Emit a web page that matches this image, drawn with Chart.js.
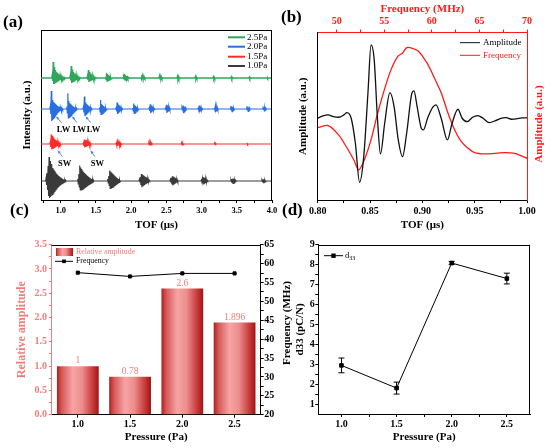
<!DOCTYPE html>
<html><head><meta charset="utf-8">
<script src="https://cdn.jsdelivr.net/npm/chart.js@4.4.1/dist/chart.umd.min.js"></script>
<style>
html,body{margin:0;padding:0;background:#fff;}
#wrap{position:relative;width:550px;height:448px;overflow:hidden;background:#fff;}
#wrap canvas{position:absolute;}
.pl{position:absolute;font-family:"Liberation Serif","Times New Roman",serif;font-weight:bold;font-size:17px;line-height:20px;color:#000;}
</style></head>
<body><div id="wrap">
<canvas id="cb" width="275" height="232" style="left:275px;top:0"></canvas>
<canvas id="ca" width="280" height="232" style="left:0;top:0"></canvas>
<canvas id="cd" width="275" height="224" style="left:275px;top:224px"></canvas>
<canvas id="cc" width="295" height="224" style="left:0;top:224px"></canvas>
<div class="pl" style="left:3px;top:12px">(a)</div>
<div class="pl" style="left:281px;top:7px">(b)</div>
<div class="pl" style="left:10px;top:200px">(c)</div>
<div class="pl" style="left:282px;top:200px">(d)</div>
</div>
<script>
// ================= DATA =================
// (a) ultrasonic echo traces: [start time (us), samples (a.u.) every DT]
const DT = 0.007;
const aTraceLabels = ['2.5Pa', '2.0Pa', '1.5Pa', '1.0Pa'];
const echoes25 = [
 [0.872,[0,0.3,-0.3,1.6,-0.6,1.1,-0.6,0.8,-0.5,0.6,-0.45,0.5,-0.4,0.4,-0.3,0.3,-0.25,0.22,-0.18,0.15,-0.12,0.1,-0.08,0.06,-0.05,0.05,-0.04,0.04,0]],
 [1.128,[0,0.25,-0.25,1.2,-0.5,0.85,-0.45,0.6,-0.4,0.45,-0.35,0.35,-0.28,0.25,-0.2,0.16,-0.12,0.1,-0.07,0.05,-0.05,0.04,0]],
 [1.372,[0,0.2,-0.2,0.8,-0.4,0.6,-0.35,0.45,-0.3,0.32,-0.25,0.22,-0.18,0.14,-0.1,0.07,-0.05,0.05,0]],
 [1.630,[0,0.12,-0.15,0.5,-0.3,0.4,-0.25,0.3,-0.2,0.2,-0.15,0.12,-0.08,0.05,-0.05,0]],
 [1.885,[0,0.1,-0.1,0.4,-0.22,0.3,-0.18,0.2,-0.12,0.1,-0.06,0.05,0]],
 [2.140,[0,0.3,-0.18,0.22,-0.14,0.15,-0.1,0.08,-0.05,0]],
 [2.395,[0,0.22,-0.14,0.16,-0.1,0.1,-0.06,0]],
 [2.650,[0,0.18,-0.12,0.12,-0.08,0.06,0]],
 [2.905,[0,0.15,-0.1,0.1,-0.06,0]],
 [3.160,[0,0.13,-0.08,0.08,-0.05,0]],
 [3.415,[0,0.12,-0.07,0.06,0]],
 [3.670,[0,0.1,-0.06,0.05,0]],
 [3.925,[0,0.08,-0.05,0]]
];
const echoes20 = [
 [0.845,[0,0.3,-0.5,1.8,-1.2,0.9,-1.1,0.7,-1.0,0.6,-0.9,0.5,-0.75,0.4,-0.6,0.3,-0.45,0.25,-0.35,0.2,-0.25,0.15,-0.18,0.1,-0.12,0.06,-0.06,0]],
 [1.080,[0,0.25,-0.4,1.57,-0.9,0.8,-0.85,0.6,-0.75,0.5,-0.65,0.4,-0.5,0.3,-0.4,0.22,-0.3,0.15,-0.2,0.1,-0.12,0.06,0]],
 [1.315,[0,0.2,-0.35,1.25,-0.7,0.65,-0.65,0.5,-0.55,0.4,-0.45,0.3,-0.35,0.22,-0.25,0.15,-0.15,0.08,0]],
 [1.545,[0,0.15,-0.3,0.9,-0.55,0.5,-0.5,0.4,-0.42,0.3,-0.32,0.2,-0.22,0.12,-0.12,0.06,0]],
 [1.780,[0,0.12,-0.25,0.65,-0.5,0.45,-0.42,0.35,-0.32,0.25,-0.22,0.15,-0.12,0.06,0]],
 [2.015,[0,0.1,-0.2,0.55,-0.45,0.4,-0.38,0.3,-0.28,0.2,-0.18,0.1,-0.08,0]],
 [2.250,[0,0.1,-0.18,0.48,-0.42,0.35,-0.32,0.25,-0.22,0.15,-0.12,0.06,0]],
 [2.480,[0,0.1,-0.15,0.42,-0.4,0.32,-0.3,0.22,-0.18,0.12,-0.08,0]],
 [2.715,[0,0.08,-0.12,0.38,-0.36,0.28,-0.26,0.18,-0.14,0.1,0]],
 [2.945,[0,0.08,-0.1,0.34,-0.32,0.25,-0.22,0.15,-0.1,0.06,0]],
 [3.175,[0,0.06,-0.1,0.3,-0.3,0.22,-0.2,0.12,-0.08,0]],
 [3.405,[0,0.06,-0.08,0.28,-0.26,0.2,-0.16,0.1,-0.06,0]],
 [3.635,[0,0.05,-0.08,0.26,-0.24,0.16,-0.14,0.08,0]],
 [3.865,[0,0.05,-0.06,0.24,-0.2,0.14,-0.1,0.06,0]]
];
const echoes15 = [
 [0.845,[0,0.2,-0.3,0.95,-0.55,0.8,-0.5,0.65,-0.45,0.5,-0.4,0.4,-0.32,0.3,-0.25,0.22,-0.18,0.15,-0.12,0.1,-0.08,0.06,-0.05,0]],
 [1.315,[0,0.1,-0.2,0.45,-0.35,0.4,-0.3,0.32,-0.25,0.25,-0.2,0.18,-0.15,0.12,-0.1,0.08,-0.05,0]],
 [1.780,[0,0.08,-0.12,0.22,-0.18,0.18,-0.15,0.14,-0.12,0.1,-0.08,0.06,0]],
 [2.245,[0,0.06,-0.1,0.12,-0.1,0.1,-0.08,0.06,0]],
 [2.710,[0,0.06,-0.08,0.08,-0.06,0]],
 [3.180,[0,0.05,-0.06,0.06,0]],
 [3.640,[0,0.05,-0.05,0]]
];
const echoes10 = [
 [0.785,[0,0.3,-0.4,0.8,-0.9,1.5,-1.5,2.4,-1.7,2.0,-1.6,1.7,-1.5,1.5,-1.35,1.3,-1.2,1.15,-1.05,1.0,-0.9,0.85,-0.8,0.7,-0.65,0.6,-0.55,0.5,-0.45,0.42,-0.38,0.35,-0.3,0.28,-0.24,0.2,-0.18,0.15,-0.12,0.1,-0.08,0.06,0]],
 [1.235,[0,0.2,-0.3,0.7,-0.6,1.55,-0.9,1.35,-0.9,1.2,-0.85,1.05,-0.8,0.9,-0.7,0.8,-0.62,0.7,-0.55,0.6,-0.48,0.5,-0.4,0.42,-0.34,0.35,-0.28,0.28,-0.22,0.2,-0.16,0.14,-0.1,0.08,0]],
 [1.660,[0,0.2,-0.2,0.5,-0.45,1.05,-0.75,0.95,-0.7,0.85,-0.65,0.75,-0.6,0.65,-0.5,0.55,-0.42,0.45,-0.35,0.36,-0.28,0.28,-0.2,0.2,-0.14,0.12,-0.08,0]],
 [2.110,[0,0.15,-0.15,0.4,-0.4,0.7,-0.62,0.62,-0.55,0.55,-0.48,0.48,-0.4,0.4,-0.33,0.32,-0.26,0.24,-0.18,0.16,-0.1,0.08,0]],
 [2.550,[0,0.15,-0.15,0.32,-0.32,0.48,-0.45,0.42,-0.38,0.35,-0.3,0.28,-0.22,0.2,-0.15,0.12,-0.08,0]],
 [2.990,[0,0.1,-0.1,0.25,-0.25,0.36,-0.34,0.3,-0.27,0.24,-0.2,0.16,-0.12,0.08,0]],
 [3.410,[0,0.1,-0.1,0.2,-0.2,0.26,-0.24,0.2,-0.16,0.12,-0.08,0.05,0]],
 [3.850,[0,0.08,-0.08,0.18,-0.16,0.16,-0.12,0.1,-0.06,0]]
];
const aXTicks = [0.75,1.0,1.25,1.5,1.75,2.0,2.25,2.5,2.75,3.0,3.25,3.5,3.75,4.0];

// (b) single echo waveform and its spectrum
const tofUs = [0.800,0.805,0.810,0.815,0.820,0.825,0.828,0.832,0.836,0.840,0.844,0.848,0.851,0.854,0.857,0.860,0.864,0.869,0.873,0.877,0.881,0.885,0.890,0.892,0.895,0.899,0.901,0.905,0.910,0.913,0.918,0.924,0.928,0.934,0.938,0.943,0.948,0.953,0.958,0.964,0.970,0.975,0.980,0.985,0.990,0.995,1.000];
const ampAU = [0.00,0.07,0.10,0.05,0.03,0.10,0.17,0.00,-0.75,-1.92,-1.15,0.75,2.20,1.75,0.05,-1.07,-0.15,0.77,0.35,-0.65,-1.15,-0.45,0.75,0.82,0.35,-0.30,-0.35,0.00,0.33,0.40,0.00,-0.65,-0.20,0.27,0.00,-0.10,0.03,0.08,0.00,-0.13,-0.07,0.00,0.02,-0.03,-0.02,0.01,0.01];
const freqMHz = [48.0,49.1,50.2,51.1,51.8,52.3,52.9,53.6,54.3,55.0,55.7,56.4,56.9,57.4,58.5,59.5,60.2,61.0,61.7,62.4,63.1,63.8,64.5,65.6,66.6,67.7,68.7,69.4,70.0];
const freqAmp = [2.17,2.23,1.95,1.55,1.20,0.90,1.20,1.80,2.60,3.30,3.90,4.30,4.40,4.57,4.48,4.10,3.70,3.20,2.60,2.10,1.75,1.55,1.42,1.38,1.40,1.42,1.40,1.32,1.25];
const bXTicks = [0.8,0.825,0.85,0.875,0.9,0.925,0.95,0.975,1.0];
const bX2Ticks = [50,52.5,55,57.5,60,62.5,65,67.5,70];

// (c) relative amplitude and frequency vs pressure
const pressures = ['1.0','1.5','2.0','2.5'];
const relAmp = [1, 0.78, 2.6, 1.896];
const freqC = [57.6, 56.6, 57.4, 57.4];
const cYTicks = [0,0.25,0.5,0.75,1.0,1.25,1.5,1.75,2.0,2.25,2.5,2.75,3.0,3.25,3.5];
const cY2Ticks = [20,22.5,25,27.5,30,32.5,35,37.5,40,42.5,45,47.5,50,52.5,55,57.5,60,62.5,65];

// (d) d33 vs pressure
const pressureD = [1.0, 1.5, 2.0, 2.5];
const d33 = [2.94, 1.8, 8.08, 7.3];
const d33Err = [0.37, 0.3, 0.08, 0.27];
const dXTicks = [1.0,1.25,1.5,1.75,2.0,2.25,2.5];
const dYTicks = [1,1.5,2,2.5,3,3.5,4,4.5,5,5.5,6,6.5,7,7.5,8,8.5,9];

// ================= STYLE =================
const SERIF = '"Liberation Serif","Times New Roman",serif';
Chart.defaults.font.family = SERIF;
Chart.defaults.color = '#000';
const PINK = '#f47c7c';
const RED = '#ff1a1a';
const aColors = ['#2fa65c', '#2a6fe0', '#ff2a2a', '#3a3a3a'];
const aWidths = [1.3, 1.2, 1.2, 1.1];
const aOffsets = [12.2, 9.1, 5.6, 1.9];
const aEchoes = [echoes25, echoes20, echoes15, echoes10];
const BAR_STOPS = [[0,'#b02020'],[0.12,'#d65a5a'],[0.38,'#f7a4a4'],[0.6,'#ee8d8d'],[0.85,'#c83c3c'],[1,'#a01414']];

function buildTrace(echoes, off) {
  const pts = [{x: 0.72, y: off}];
  echoes.forEach(([t0, vals]) => vals.forEach((v, i) => pts.push({x: t0 + i * DT, y: off + v})));
  pts.push({x: 4.0, y: off});
  return pts;
}
function fixedTicks(list) { return s => { s.ticks = list.map(v => ({value: v})); }; }
function lab(step, dec) { return v => { const r = v / step; return Math.abs(r - Math.round(r)) < 1e-6 ? Number(v).toFixed(dec) : ''; }; }

// ================= PLUGINS =================
const framePlugin = {id: 'frame', afterDraw(chart, args, o) {
  const {ctx, chartArea: a} = chart; ctx.save(); ctx.strokeStyle = o.color || '#000'; ctx.lineWidth = 1; ctx.beginPath();
  if (o.top) { ctx.moveTo(a.left, Math.round(a.top) + 0.5); ctx.lineTo(a.right, Math.round(a.top) + 0.5); }
  if (o.right) { ctx.moveTo(Math.round(a.right) - 0.5, a.top); ctx.lineTo(Math.round(a.right) - 0.5, a.bottom); }
  ctx.stroke(); ctx.restore(); }};
const textPlugin = {id: 'texts', afterDraw(chart, args, o) {
  const ctx = chart.ctx;
  (o.items || []).forEach(it => { ctx.save(); ctx.translate(it.x, it.y); if (it.rot) ctx.rotate(it.rot);
    ctx.font = it.font; ctx.fillStyle = it.color; ctx.textAlign = 'center'; ctx.textBaseline = 'middle'; ctx.fillText(it.text, 0, 0); ctx.restore(); }); }};
const legendPlugin = {id: 'miniLegend', afterDraw(chart, args, o) {
  const ctx = chart.ctx; ctx.save();
  (o.items || []).forEach(it => {
    const ds = chart.data.datasets[it.ds];
    const col = it.lineColor || ds.borderColor;
    if (it.box) {
      const g = ctx.createLinearGradient(it.x, 0, it.x + it.len, 0); BAR_STOPS.forEach(s => g.addColorStop(s[0], s[1]));
      ctx.fillStyle = g; ctx.fillRect(it.x, it.y - it.box / 2, it.len, it.box);
    } else {
      ctx.strokeStyle = col; ctx.lineWidth = it.lw || 1; ctx.beginPath(); ctx.moveTo(it.x, it.y); ctx.lineTo(it.x + it.len, it.y); ctx.stroke();
      if (it.marker) { ctx.fillStyle = col; ctx.fillRect(it.x + it.len / 2 - it.marker, it.y - it.marker, 2 * it.marker, 2 * it.marker); }
    }
    const txt = it.text || ds.label; const tx = it.x + it.len + (o.gap || 3);
    ctx.font = o.font; ctx.fillStyle = it.textColor || '#000'; ctx.textAlign = 'left'; ctx.textBaseline = 'middle';
    ctx.fillText(txt, tx, it.y);
    if (it.sub) { const w = ctx.measureText(txt).width; ctx.font = o.subFont; ctx.fillText(it.sub, tx + w, it.y + 3); }
  });
  ctx.restore(); }};
const annotPlugin = {id: 'annot', afterDatasetsDraw(chart, args, o) {
  const {ctx, scales: {x, y}} = chart; ctx.save();
  ctx.font = o.font; ctx.fillStyle = '#000'; ctx.textAlign = 'center'; ctx.textBaseline = 'middle';
  (o.texts || []).forEach(t => ctx.fillText(t.text, x.getPixelForValue(t.x), y.getPixelForValue(t.y)));
  ctx.strokeStyle = o.arrowColor; ctx.fillStyle = o.arrowColor; ctx.lineWidth = 0.9;
  (o.arrows || []).forEach(a => {
    const x1 = x.getPixelForValue(a.x1), y1 = y.getPixelForValue(a.y1), x2 = x.getPixelForValue(a.x2), y2 = y.getPixelForValue(a.y2);
    ctx.beginPath(); ctx.moveTo(x1, y1); ctx.lineTo(x2, y2); ctx.stroke();
    const ang = Math.atan2(y2 - y1, x2 - x1), h = 3.2;
    ctx.beginPath(); ctx.moveTo(x2, y2); ctx.lineTo(x2 - h * Math.cos(ang - 0.5), y2 - h * Math.sin(ang - 0.5));
    ctx.lineTo(x2 - h * Math.cos(ang + 0.5), y2 - h * Math.sin(ang + 0.5)); ctx.closePath(); ctx.fill();
  });
  ctx.restore(); }};
const valuePlugin = {id: 'values', afterDatasetsDraw(chart, args, o) {
  const meta = chart.getDatasetMeta(o.ds), ds = chart.data.datasets[o.ds], ctx = chart.ctx;
  ctx.save(); ctx.font = o.font; ctx.fillStyle = o.color; ctx.textAlign = 'center'; ctx.textBaseline = 'bottom';
  meta.data.forEach((el, i) => ctx.fillText(String(ds.data[i]), el.x, el.y - 0.5)); ctx.restore(); }};
const errorPlugin = {id: 'errorBars', afterDatasetsDraw(chart) {
  const ctx = chart.ctx, ys = chart.scales.y;
  chart.data.datasets.forEach((ds, di) => {
    if (!ds.errors) return;
    const meta = chart.getDatasetMeta(di);
    ctx.save(); ctx.strokeStyle = '#000'; ctx.lineWidth = 1;
    meta.data.forEach((el, i) => {
      const v = ds.data[i].y, e = ds.errors[i];
      const yt = ys.getPixelForValue(v + e), yb = ys.getPixelForValue(v - e);
      ctx.beginPath(); ctx.moveTo(el.x, yt); ctx.lineTo(el.x, yb);
      ctx.moveTo(el.x - 3, yt); ctx.lineTo(el.x + 3, yt); ctx.moveTo(el.x - 3, yb); ctx.lineTo(el.x + 3, yb); ctx.stroke();
    });
    ctx.restore();
  }); }};

function barGradient(c) {
  const chart = c.chart, xs = chart.scales.x;
  if (!chart.chartArea || !xs || c.dataIndex === undefined) return '#ee8d8d';
  const cx = xs.getPixelForValue(c.dataIndex);
  const w = (xs.getPixelForValue(1) - xs.getPixelForValue(0)) * 0.8;
  const g = chart.ctx.createLinearGradient(cx - w / 2, 0, cx + w / 2, 0);
  BAR_STOPS.forEach(s => g.addColorStop(s[0], s[1]));
  return g;
}

const tickFont = (s) => ({size: s, weight: 'bold'});
const titleFont = (s) => ({size: s, weight: 'bold'});

// ================= (a) =================
new Chart(document.getElementById('ca'), {
  type: 'line',
  data: {datasets: aTraceLabels.map((l, k) => ({label: l, data: buildTrace(aEchoes[k], aOffsets[k]),
    borderColor: aColors[k], borderWidth: aWidths[k], pointRadius: 0, tension: 0}))},
  options: {
    responsive: false, animation: false, events: [],
    layout: {padding: {top: 30, right: 8, left: 0, bottom: 0}},
    plugins: {legend: {display: false}, tooltip: {enabled: false},
      frame: {top: true, right: true},
      miniLegend: {font: '9px ' + SERIF, gap: 2, items: [
        {ds: 0, x: 228, y: 37.3, len: 17, lw: 2}, {ds: 1, x: 228, y: 46.7, len: 17, lw: 2},
        {ds: 2, x: 228, y: 56.7, len: 17, lw: 2}, {ds: 3, x: 228, y: 66, len: 17, lw: 2}]},
      annot: {font: 'bold 8.5px ' + SERIF, arrowColor: '#4a7fd8',
        texts: [{text: 'LW', x: 1.04, y: 7.0}, {text: 'LW', x: 1.265, y: 7.0}, {text: 'LW', x: 1.465, y: 7.0},
                {text: 'SW', x: 1.057, y: 3.6}, {text: 'SW', x: 1.52, y: 3.6}],
        arrows: [{x1: 1.01, y1: 7.73, x2: 0.939, y2: 8.33}, {x1: 1.232, y1: 7.73, x2: 1.166, y2: 8.33},
                 {x1: 1.427, y1: 7.73, x2: 1.356, y2: 8.33}, {x1: 1.024, y1: 4.33, x2: 0.962, y2: 4.93},
                 {x1: 1.484, y1: 4.33, x2: 1.427, y2: 4.93}]}},
    scales: {
      x: {type: 'linear', min: 0.72, max: 4.0, afterBuildTicks: fixedTicks(aXTicks), afterFit: s => { s.height = 32; },
        ticks: {callback: lab(0.5, 1), font: tickFont(8.5), padding: 2.5, maxRotation: 0, autoSkip: false, color: '#000'},
        grid: {drawOnChartArea: false, tickLength: 3, color: '#000'}, border: {color: '#000'},
        title: {display: true, text: 'TOF (μs)', font: titleFont(11), padding: {top: 0, bottom: 0}, color: '#000'}},
      y: {type: 'linear', min: 0, max: 17, afterFit: s => { s.width = 41; }, ticks: {display: false},
        grid: {display: false}, border: {color: '#000'},
        title: {display: true, text: 'Intensity (a.u.)', font: titleFont(11), padding: {top: 20.4, bottom: 0}, color: '#000'}}
    }
  },
  plugins: [framePlugin, legendPlugin, annotPlugin]
});

// ================= (b) =================
new Chart(document.getElementById('cb'), {
  type: 'line',
  data: {datasets: [
    {label: 'Amplitude', data: tofUs.map((t, i) => ({x: t, y: ampAU[i]})), xAxisID: 'x', yAxisID: 'y',
      borderColor: '#111', borderWidth: 1.3, pointRadius: 0, cubicInterpolationMode: 'monotone'},
    {label: 'Frequency', data: freqMHz.map((f, i) => ({x: f, y: freqAmp[i]})), xAxisID: 'x2', yAxisID: 'y2',
      borderColor: RED, borderWidth: 1.3, pointRadius: 0, tension: 0.25}
  ]},
  options: {
    responsive: false, animation: false, events: [],
    layout: {padding: 0},
    plugins: {legend: {display: false}, tooltip: {enabled: false},
      miniLegend: {font: '9px ' + SERIF, gap: 3, items: [
        {ds: 0, x: 185, y: 42.7, len: 20}, {ds: 1, x: 185, y: 55.3, len: 20, textColor: RED}]},
      texts: {items: [{text: 'Amplitude (a.u.)', x: 264.5, y: 124, rot: -Math.PI / 2, color: RED, font: 'bold 11px ' + SERIF}]}},
    scales: {
      x: {type: 'linear', position: 'bottom', min: 0.8, max: 1.0, afterBuildTicks: fixedTicks(bXTicks), afterFit: s => { s.height = 32; },
        ticks: {callback: lab(0.05, 2), font: tickFont(10), padding: 2, maxRotation: 0, autoSkip: false, color: '#000'},
        grid: {drawOnChartArea: false, tickLength: 3, color: '#000'}, border: {color: '#000'},
        title: {display: true, text: 'TOF (μs)', font: titleFont(11), padding: {top: 0, bottom: 0}, color: '#000'}},
      x2: {type: 'linear', position: 'top', min: 48, max: 70, afterBuildTicks: fixedTicks(bX2Ticks), afterFit: s => { s.height = 32.5; },
        ticks: {callback: lab(5, 0), font: tickFont(10), padding: 2, maxRotation: 0, autoSkip: false, color: RED},
        grid: {drawOnChartArea: false, tickLength: 3, color: RED}, border: {color: RED},
        title: {display: true, text: 'Frequency (MHz)', font: titleFont(11), padding: {top: 2.7, bottom: 0}, color: RED}},
      y: {type: 'linear', position: 'left', min: -2.45, max: 2.57, afterFit: s => { s.width = 42.7; }, ticks: {display: false},
        grid: {display: false}, border: {color: '#000'},
        title: {display: true, text: 'Amplitude (a.u.)', font: titleFont(11), padding: {top: 21.4, bottom: 0}, color: '#000'}},
      y2: {type: 'linear', position: 'right', min: 0, max: 5.02, afterFit: s => { s.width = 23; }, ticks: {display: false},
        grid: {display: false}, border: {color: RED}}
    }
  },
  plugins: [legendPlugin, textPlugin]
});

// ================= (c) =================
new Chart(document.getElementById('cc'), {
  type: 'bar',
  data: {labels: pressures, datasets: [
    {type: 'line', label: 'Frequency', data: freqC, yAxisID: 'y2', borderColor: '#000', backgroundColor: '#000',
      borderWidth: 1, pointStyle: 'rect', pointRadius: 2.2, order: 0},
    {type: 'bar', label: 'Relative amplitude', data: relAmp, yAxisID: 'y', backgroundColor: barGradient,
      borderWidth: 0, categoryPercentage: 0.8, barPercentage: 1.0, order: 1}
  ]},
  options: {
    responsive: false, animation: false, events: [],
    layout: {padding: {top: 20.7, right: 0, left: 0, bottom: 0}},
    plugins: {legend: {display: false}, tooltip: {enabled: false},
      frame: {top: true},
      values: {ds: 1, font: '9.5px ' + SERIF, color: PINK},
      miniLegend: {font: '7.8px ' + SERIF, gap: 3, items: [
        {ds: 1, x: 56, y: 28, len: 17, box: 8, textColor: PINK}, {ds: 0, x: 55, y: 37.3, len: 18, marker: 1.8}]},
      texts: {items: [{text: 'Frequency (MHz)', x: 287, y: 99, rot: -Math.PI / 2, color: '#000', font: 'bold 11px ' + SERIF}]}},
    scales: {
      x: {type: 'category', offset: true, afterFit: s => { s.height = 33.3; },
        ticks: {font: tickFont(10), padding: 1, maxRotation: 0, autoSkip: false, color: '#000'},
        grid: {drawOnChartArea: false, offset: false, tickLength: 3, color: '#000'}, border: {color: '#000'},
        title: {display: true, text: 'Pressure (Pa)', font: titleFont(11), padding: {top: 0, bottom: 4.4}, color: '#000'}},
      y: {type: 'linear', position: 'left', min: 0, max: 3.5, afterBuildTicks: fixedTicks(cYTicks), afterFit: s => { s.width = 51.7; },
        ticks: {callback: lab(0.5, 1), font: tickFont(10), padding: 1.7, autoSkip: false, color: PINK},
        grid: {drawOnChartArea: false, tickLength: 3, color: PINK}, border: {color: PINK},
        title: {display: true, text: 'Relative amplitude', font: titleFont(12), padding: {top: 14.8, bottom: 0}, color: PINK}},
      y2: {type: 'linear', position: 'right', min: 20, max: 65, afterBuildTicks: fixedTicks(cY2Ticks), afterFit: s => { s.width = 34.3; },
        ticks: {callback: lab(5, 0), font: tickFont(10), padding: 0.5, autoSkip: false, color: '#000'},
        grid: {drawOnChartArea: false, tickLength: 3, color: '#000'}, border: {color: '#000'}}
    }
  },
  plugins: [framePlugin, valuePlugin, legendPlugin, textPlugin]
});

// ================= (d) =================
new Chart(document.getElementById('cd'), {
  type: 'line',
  data: {datasets: [{label: 'd33', data: pressureD.map((p, i) => ({x: p, y: d33[i]})), errors: d33Err,
    borderColor: '#000', backgroundColor: '#000', borderWidth: 1, pointStyle: 'rect', pointRadius: 2.5, tension: 0}]},
  options: {
    responsive: false, animation: false, events: [],
    layout: {padding: {top: 20.7, right: 20, left: 0, bottom: 0}},
    plugins: {legend: {display: false}, tooltip: {enabled: false},
      frame: {top: true, right: true},
      miniLegend: {font: '8.5px ' + SERIF, subFont: '6px ' + SERIF, gap: 2, items: [
        {ds: 0, x: 49, y: 31.7, len: 19, marker: 2.2, text: 'd', sub: '33'}]}},
    scales: {
      x: {type: 'linear', min: 0.79, max: 2.71, afterBuildTicks: fixedTicks(dXTicks), afterFit: s => { s.height = 34; },
        ticks: {callback: lab(0.5, 1), font: tickFont(10), padding: 1.3, maxRotation: 0, autoSkip: false, color: '#000'},
        grid: {drawOnChartArea: false, tickLength: 3, color: '#000'}, border: {color: '#000'},
        title: {display: true, text: 'Pressure (Pa)', font: titleFont(11), padding: {top: 0, bottom: 4.4}, color: '#000'}},
      y: {type: 'linear', min: 0.5, max: 9, afterBuildTicks: fixedTicks(dYTicks), afterFit: s => { s.width = 43.3; },
        ticks: {callback: lab(1, 0), font: tickFont(10), padding: 0.5, autoSkip: false, color: '#000'},
        grid: {drawOnChartArea: false, tickLength: 3, color: '#000'}, border: {color: '#000'},
        title: {display: true, text: 'd33 (pC/N)', font: titleFont(11), padding: {top: 18.4, bottom: 0}, color: '#000'}}
    }
  },
  plugins: [framePlugin, errorPlugin, legendPlugin]
});
</script></body></html>
